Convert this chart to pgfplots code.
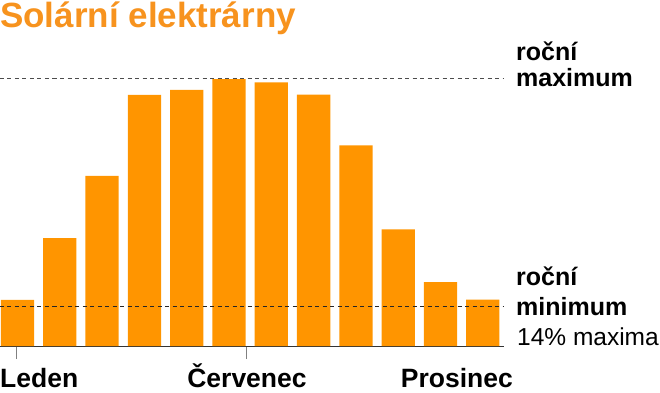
\documentclass[border=0pt]{standalone}
\usepackage{fontspec}
\setmainfont{Liberation Sans}
\usepackage{pgfplots}
\pgfplotsset{compat=1.18}
\definecolor{barorange}{HTML}{FF9500}
\definecolor{titleorange}{HTML}{F7931E}
\begin{document}
\begin{tikzpicture}[x=1pt,y=1pt]
\path[use as bounding box] (0,0) rectangle (660,392);
\begin{axis}[
  at={(0pt,46pt)}, anchor=origin,
  scale only axis, width=504pt, height=268pt,
  xmin=0.5863, xmax=12.501, ymin=0, ymax=100,
  clip=false,
  axis x line*=bottom, axis y line=none,
  x axis line style={draw=black!80, line width=0.8pt, -},
  xtick={0.965,6.40}, xticklabels={},
  tick align=outside, major tick length=13pt,
  xtick style={draw=gray, line width=0.8pt},
  ytick=\empty,
]
\addplot[ybar, bar width=0.787, fill=barorange, draw=none]
  coordinates {(1,17.2) (2,40.3) (3,63.5) (4,93.7) (5,95.6) (6,99.6)
               (7,98.4) (8,93.8) (9,74.9) (10,43.5) (11,23.8) (12,17.3)};
\draw[black!70, line width=0.6pt, dash pattern=on 4pt off 3.5pt] (axis cs:0.5863,100) -- (axis cs:12.501,100);
\draw[black!85, line width=0.6pt, dash pattern=on 4pt off 3.5pt] (axis cs:0.5863,14.9) -- (axis cs:12.501,14.9);
\end{axis}
\node[anchor=base west, inner sep=0, text=titleorange, font=\fontsize{35}{40}\selectfont\bfseries] at (0,364) {Solární elektrárny};
\node[anchor=base west, inner sep=0, font=\fontsize{25}{29}\selectfont\bfseries] at (516,331.3) {roční};
\node[anchor=base west, inner sep=0, font=\fontsize{25}{29}\selectfont\bfseries] at (516,305.3) {maximum};
\node[anchor=base west, inner sep=0, font=\fontsize{25}{29}\selectfont\bfseries] at (516,107) {roční};
\node[anchor=base west, inner sep=0, font=\fontsize{25}{29}\selectfont\bfseries] at (516,77) {minimum};
\node[anchor=base west, inner sep=0, font=\fontsize{24.5}{29}\selectfont] at (517,47) {14\% maxima};
\node[anchor=base west, inner sep=0, font=\fontsize{26.5}{30}\selectfont\bfseries] at (0,5) {Leden};
\node[anchor=base, inner sep=0, font=\fontsize{26.5}{30}\selectfont\bfseries] at (247,5) {Červenec};
\node[anchor=base east, inner sep=0, font=\fontsize{26.5}{30}\selectfont\bfseries] at (513,5) {Prosinec};
\end{tikzpicture}
\end{document}
